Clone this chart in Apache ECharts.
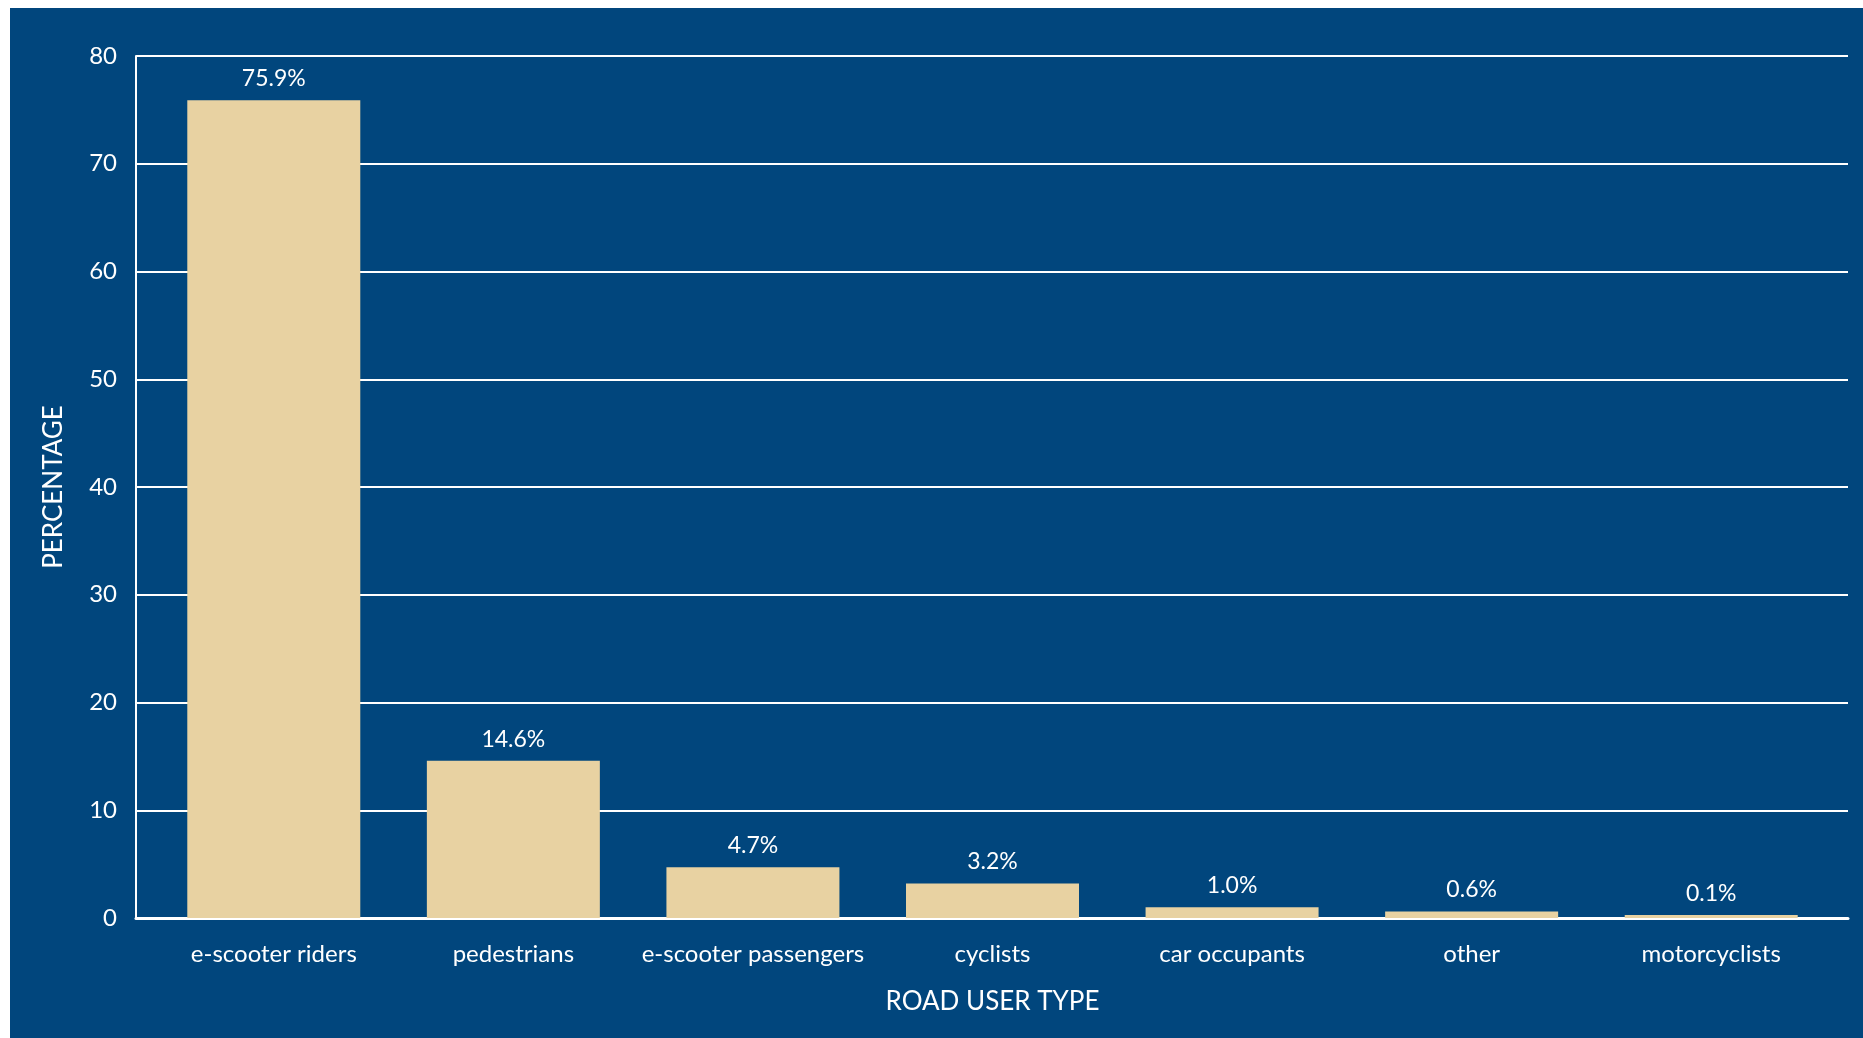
<!DOCTYPE html>
<html>
<head>
<meta charset="utf-8">
<script src="https://cdn.jsdelivr.net/npm/echarts@6/dist/echarts.min.js"></script>
<style>
  html, body { margin: 0; padding: 0; background: #fff; }
  #chart { width: 1863px; height: 1038px; }
</style>
</head>
<body>
<div id="chart"></div>
<script>
// datos del gráfico
const categorias = ['e-scooter riders', 'pedestrians', 'e-scooter passengers', 'cyclists', 'car occupants', 'other', 'motorcyclists'];
const porcentajes = [75.9, 14.6, 4.7, 3.2, 1.0, 0.6, 0.1];
const ejeY = { min: 0, max: 80, interval: 10 };

const azul = '#01467D';
const arena = '#E8D2A2';
const fuente = 'Lato';

const chart = echarts.init(document.getElementById('chart'));

chart.setOption({
  backgroundColor: '#fff',
  animation: false,
  textStyle: { fontFamily: fuente, color: '#fff' },
  graphic: [
    { type: 'rect', left: 10, top: 8, shape: { width: 1853, height: 1030 }, style: { fill: azul }, z: -10 }
  ],
  grid: [
    // barras
    { left: 154, right: 32, top: 56, bottom: 120 },
    // ejes y líneas de cuadrícula
    { left: 136, right: 15, top: 56, bottom: 120 }
  ],
  xAxis: [
    {
      type: 'category',
      gridIndex: 0,
      data: categorias,
      axisLine: { show: false },
      axisTick: { show: false },
      axisLabel: { color: '#fff', fontSize: 24, margin: 24, interval: 0, fontFamily: fuente },
      name: 'ROAD USER TYPE',
      nameLocation: 'middle',
      nameGap: 71,
      nameTextStyle: { color: '#fff', fontSize: 26, fontFamily: fuente }
    },
    {
      type: 'value',
      gridIndex: 1,
      min: 0,
      max: 1,
      axisLine: { show: true, lineStyle: { color: '#fff', width: 3 } },
      axisTick: { show: false },
      axisLabel: { show: false },
      splitLine: { show: false }
    }
  ],
  yAxis: [
    {
      type: 'value',
      gridIndex: 0,
      min: ejeY.min,
      max: ejeY.max,
      interval: ejeY.interval,
      show: false
    },
    {
      type: 'value',
      gridIndex: 1,
      min: ejeY.min,
      max: ejeY.max,
      interval: ejeY.interval,
      axisLine: { show: true, lineStyle: { color: '#fff', width: 2 } },
      axisTick: { show: false },
      axisLabel: { color: '#fff', fontSize: 24, margin: 19, fontFamily: fuente },
      splitLine: { show: true, lineStyle: { color: '#fff', width: 2 } },
      name: 'PERCENTAGE',
      nameLocation: 'middle',
      nameGap: 69,
      nameTextStyle: { color: '#fff', fontSize: 26, fontFamily: fuente }
    }
  ],
  series: [
    {
      type: 'bar',
      xAxisIndex: 0,
      yAxisIndex: 0,
      data: porcentajes,
      barWidth: 173,
      barMinHeight: 3,
      itemStyle: { color: arena },
      z: 5,
      label: {
        show: true,
        position: 'top',
        distance: 10,
        color: '#fff',
        fontSize: 23,
        fontFamily: fuente,
        formatter: p => p.value.toFixed(1) + '%'
      }
    }
  ]
});
</script>
</body>
</html>
